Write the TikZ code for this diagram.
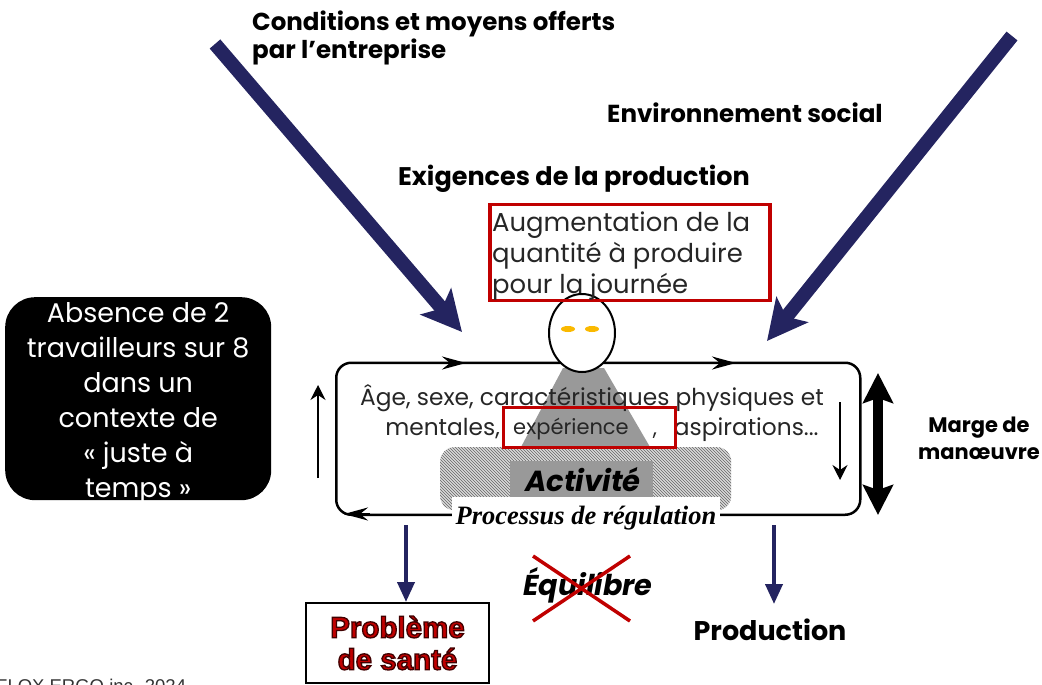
\documentclass[tikz,border=0pt]{standalone}
\usepackage{fontspec}
\setmainfont{Poppins}
\newfontfamily\serifbi{Liberation Serif}
\newfontfamily\arialb{Liberation Sans}
\definecolor{navyarrow}{RGB}{36, 36, 96}
\definecolor{boxred}{RGB}{192, 0, 0}
\definecolor{midgray}{RGB}{153, 153, 153}
\definecolor{eyeorange}{RGB}{250, 185, 0}
\usetikzlibrary{shapes.geometric, arrows.meta, patterns}
\tikzset{
  bigarrow/.style={draw=navyarrow, line width=14pt, -{Stealth[length=40pt, width=40pt, inset=9pt]}},
  downarrow/.style={draw=navyarrow, line width=4pt, -{Triangle[length=20pt, width=17pt]}},
  looptip/.style={draw=black, line width=2.5pt, -{Stealth[length=24pt, width=13pt, inset=8pt]}},
  thinarrow/.style={draw=black, line width=1.2pt, -{Stealth[length=15pt, width=15pt, inset=5pt]}},
  redbox/.style={draw=boxred, line width=3.5pt, minimum width=#1, inner sep=0pt},
  boldlabel/.style={font=\fontsize{#1}{28}\selectfont\bfseries, align=left, inner sep=0pt},
  bodytext/.style={text=black!85, inner sep=0pt, align=center},
}
\begin{document}
\begin{tikzpicture}[x=1pt, y=-1pt]
  \useasboundingbox (0,0) rectangle (1042,685);

  % labels at the top
  \node[boldlabel=24.5, anchor=north west] (conditions) at (252,10.5) {Conditions et moyens offerts\\par l'entreprise};
  \node[boldlabel=24.6, anchor=west] (social) at (607,113) {Environnement social};
  \node[boldlabel=25.5, anchor=west] (exigences) at (398,179) {Exigences de la production};
  \coordinate (leftstart) at (215,44);
  \coordinate (lefttip) at (462,332);
  \coordinate (rightstart) at (1012,36);
  \coordinate (righttip) at (767,341);
  \draw[bigarrow] (leftstart) -- (lefttip);
  \draw[bigarrow] (rightstart) -- (righttip);

  % worker and regulation loop
  \node[draw=black, line width=2.5pt, rounded corners=15pt, minimum width=524pt, minimum height=152pt, anchor=north west] (loop) at (335,361.5) {};
  \fill[midgray] (563,368) -- (604,368) -- (650,447) -- (521,447) -- cycle;
  \node[ellipse, draw=black, fill=white, line width=2pt, minimum width=66pt, minimum height=78pt, inner sep=0pt] (head) at (582,333) {};
  \node[ellipse, fill=eyeorange, minimum width=14pt, minimum height=6pt, inner sep=0pt] (eyeleft) at (568,329) {};
  \node[ellipse, fill=eyeorange, minimum width=14pt, minimum height=6pt, inner sep=0pt] (eyeright) at (592,329) {};

  \coordinate (topa) at (440,363);
  \coordinate (topb) at (466,363);
  \coordinate (topc) at (710,363);
  \coordinate (topd) at (736,363);
  \coordinate (bota) at (370,514);
  \coordinate (botb) at (344,514);
  \draw[looptip] (topa) -- (topb);
  \draw[looptip] (topc) -- (topd);
  \draw[looptip] (bota) -- (botb);

  \coordinate (upstart) at (318,478);
  \coordinate (upend) at (318,385);
  \coordinate (downstart) at (840,402);
  \coordinate (downend) at (840,480);
  \draw[thinarrow] (upstart) -- (upend);
  \draw[thinarrow] (downstart) -- (downend);

  \node[bodytext, font=\fontsize{23.3}{30}\selectfont, anchor=north] (traits) at (592,384) {Âge, sexe, caractéristiques physiques et\\\hspace*{20pt}mentales,\hspace{174pt}aspirations...};
  \node[bodytext, font=\fontsize{21}{24}\selectfont, anchor=center] (experience) at (571,429) {expérience};
  \node[bodytext, font=\fontsize{21}{24}\selectfont, anchor=base] (comma) at (655,435) {,};

  \node[rounded corners=14pt, minimum width=291pt, minimum height=63pt, anchor=north west, inner sep=0pt, preaction={fill=black!15}, pattern=north west lines, pattern color=black!60] (hatch) at (440,447) {};
  \node[redbox=172pt, minimum height=40pt, anchor=north west] (expbox) at (501.5,405.5) {};
  \node[fill=midgray, minimum width=143pt, minimum height=39pt, inner sep=0pt, font=\fontsize{29}{32}\selectfont\bfseries\itshape, text=black] (activite) at (581.5,480) {\hspace*{3pt}Activité};
  \node[fill=white, minimum width=268pt, minimum height=42pt, inner sep=0pt, font=\serifbi\fontsize{26.5}{28}\selectfont\bfseries\itshape] (processus) at (586,518) {Processus de régulation};

  % demand box
  \node[redbox=280pt, minimum height=96pt, anchor=north west] (demand) at (488,202.5) {};
  \node[bodytext, font=\fontsize{25.9}{31}\selectfont, align=left, anchor=west] (demandtext) at (492,256) {Augmentation de la\\quantité à produire\\pour la journée};

  % side notes
  \node[fill=black, rounded corners=30pt, minimum width=266pt, minimum height=203pt, inner sep=0pt, anchor=north west] (absence) at (5,297) {};
  \node[text=white, inner sep=0pt, align=center, font=\fontsize{27}{35}\selectfont, yshift=-5pt] (absencetext) at (absence.center) {Absence de 2\\travailleurs sur 8\\dans un\\contexte de\\« juste à\\temps »};
  \node[font=\fontsize{21}{27}\selectfont\bfseries, align=center, inner sep=0pt] (marge) at (979,438) {Marge de\\manœuvre};
  \coordinate (margetop) at (878,373);
  \coordinate (margebot) at (878,515);
  \draw[draw=black, line width=10pt, {Stealth[length=30pt, width=30pt, inset=5pt]}-{Stealth[length=30pt, width=30pt, inset=5pt]}] (margetop) -- (margebot);

  % outcomes
  \node[draw=black, line width=2pt, fill=white, minimum width=183pt, minimum height=80pt, inner sep=0pt, align=center, text=boxred, font=\arialb\fontsize{29.5}{32}\selectfont\bfseries, anchor=north west] (sante) at (305,602) {\special{pdf:code 2 Tr 1.3 w 0.25 0 0 RG}Problème\\\special{pdf:code 2 Tr 1.3 w 0.25 0 0 RG}de santé};
  \node[font=\fontsize{27}{30}\selectfont\bfseries, inner sep=0pt] (production) at (770,630) {Production};
  \coordinate (santetop) at (406,525);
  \coordinate (prodtop) at (774,525);
  \coordinate (prodend) at (774,604);
  \draw[downarrow] (santetop) -- (sante.north -| santetop);
  \draw[downarrow] (prodtop) -- (prodend);

  \node[font=\fontsize{28.7}{34}\selectfont\bfseries\itshape, inner sep=0pt] (equilibre) at (588,585) {Équilibre};
  \coordinate (crossa) at (533,556);
  \coordinate (crossb) at (630,621);
  \coordinate (crossc) at (630,556);
  \coordinate (crossd) at (533,621);
  \draw[draw=boxred, line width=3.5pt] (crossa) -- (crossb);
  \draw[draw=boxred, line width=3.5pt] (crossc) -- (crossd);

  \node[font=\arialb\fontsize{18.5}{20}\selectfont, anchor=west, inner sep=0pt, text=black!80] (footer) at (-4,686) {FLOX ERGO inc. 2024};
\end{tikzpicture}
\end{document}
